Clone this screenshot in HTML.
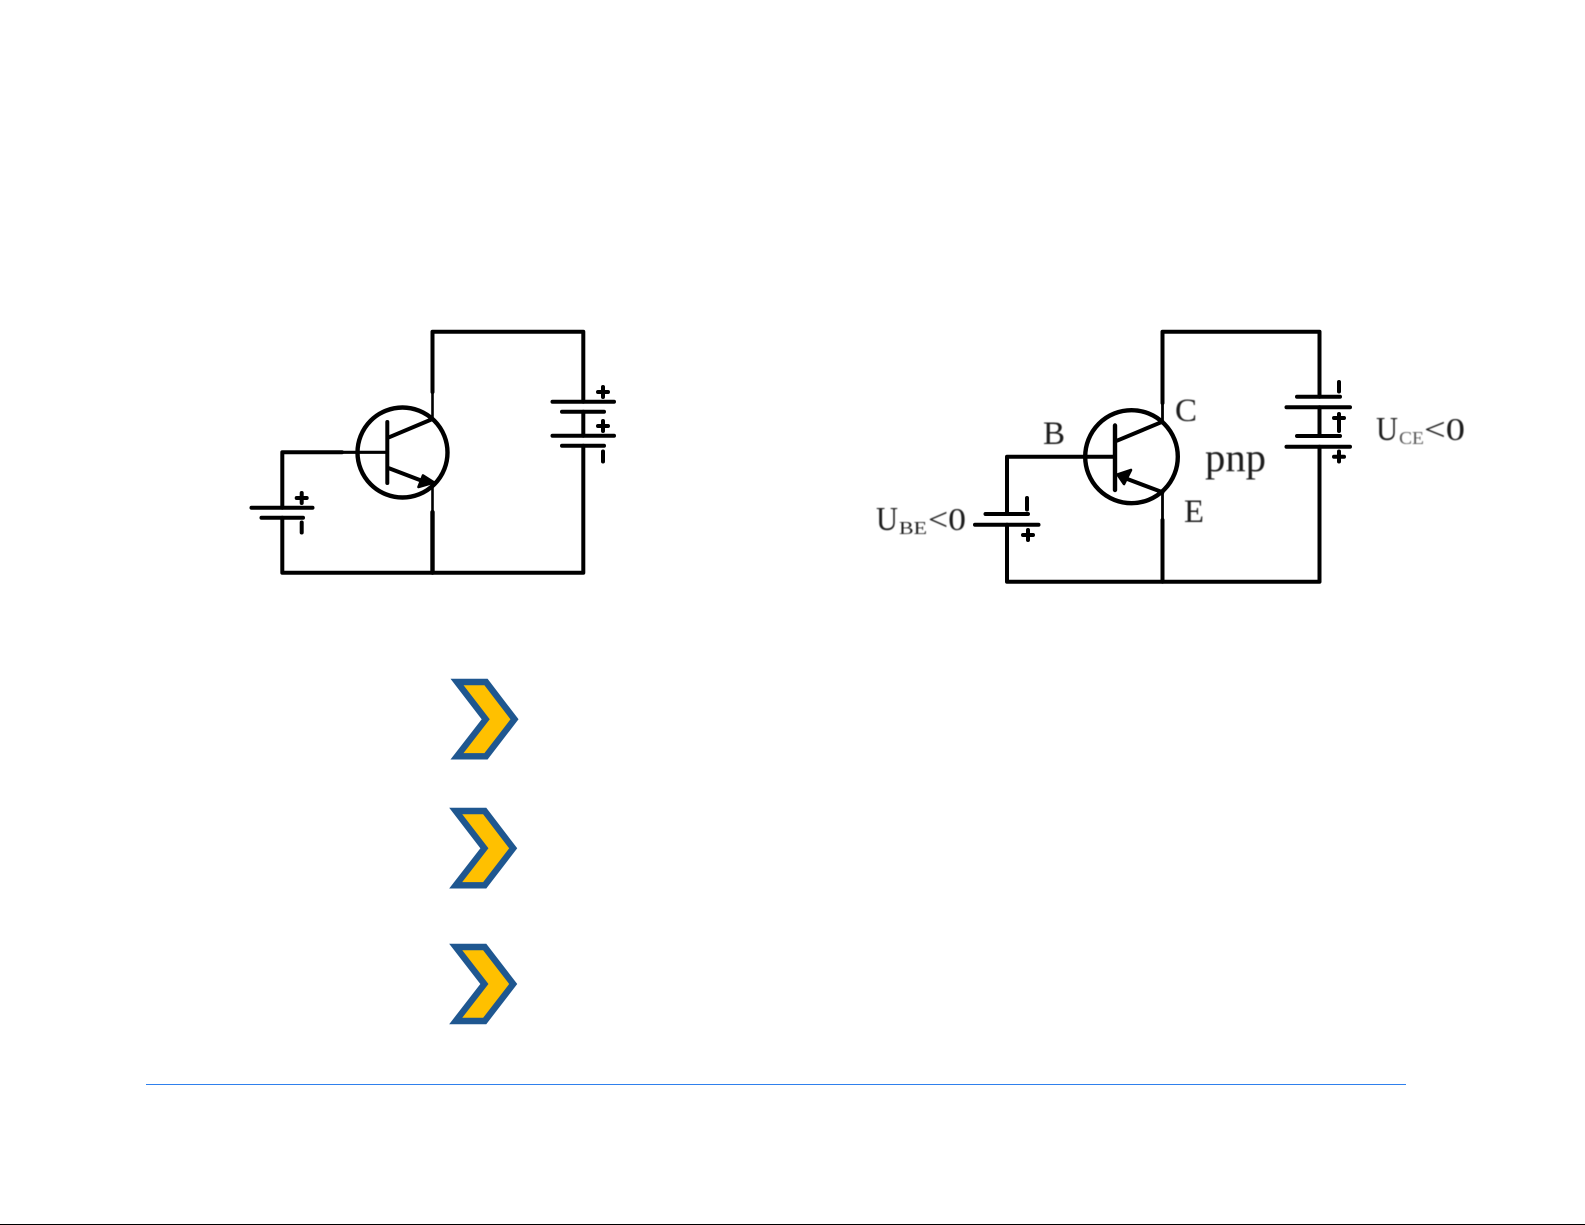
<!DOCTYPE html>
<html>
<head>
<meta charset="utf-8">
<style>
html,body{margin:0;padding:0;background:#fff;width:1585px;height:1225px;overflow:hidden}
svg{display:block;position:absolute;left:0;top:0}
text{font-family:"Liberation Serif",serif;fill:#1c1c1c}
</style>
</head>
<body>
<svg width="1585" height="1225" viewBox="0 0 1585 1225" xmlns="http://www.w3.org/2000/svg">
<rect width="1585" height="1225" fill="#fff"/>

<!-- NPN circuit -->
<g fill="none" stroke="#000" stroke-width="4" stroke-linecap="round" stroke-linejoin="round">
  <circle cx="402.5" cy="452.5" r="45" stroke-width="4.4"/>
  <path d="M432.5 392V331.7H583.3V401.7"/>
  <path d="M583.3 411.7V435.7"/>
  <path d="M583.3 445.7V572.7H282.3V517.7"/>
  <path d="M282.3 507.7V452.3H342"/>
  <path d="M432.5 512V572.7" stroke-width="4.4"/>
  <path d="M251.5 507.7H312.5M261.5 517.7H303M552.5 401.7H614M562 411.7H604M552.5 435.7H614M562 445.7H604"/>
  <path d="M387.3 422V483"/>
  <path d="M389 437.3L432.5 419M389 468.3L425 482"/>
  <path d="M301.7 493V503M296.7 498H306.7M301.7 522.5V532.5"/>
  <path d="M603 387V397M598 392H608M603 421V431M598 426H608M603 451.5V461.5"/>
</g>
<g fill="none" stroke="#000" stroke-width="2.6">
  <path d="M342 452.3H388" stroke-width="3.2"/>
  <path d="M432.5 392V419M432.5 483V512"/>
</g>
<polygon points="434,482.5 423,475.5 418.5,487" fill="#000" stroke="#000" stroke-width="2.6" stroke-linejoin="round"/>

<!-- PNP circuit -->
<g fill="none" stroke="#000" stroke-width="4" stroke-linecap="round" stroke-linejoin="round">
  <ellipse cx="1131.5" cy="456.7" rx="46.3" ry="46.5" stroke-width="4.4"/>
  <path d="M1162.5 403V331.7H1319.5V396.7"/>
  <path d="M1319.5 407.3V436"/>
  <path d="M1319.5 446.7V581.7H1007V524.7"/>
  <path d="M1007 514V456.7H1113"/>
  <path d="M1162.5 520V581.7"/>
  <path d="M985.5 514H1028M975 524.7H1038.5M1297 396.7H1340M1286.5 407.3H1350M1297 436H1340M1286.5 446.7H1350"/>
  <path d="M1115 425.5V490" stroke-width="4.4"/>
  <path d="M1117 440.7L1162.5 421.7M1126 478.5L1162.5 492.3"/>
  <path d="M1027 498V509.5M1028 530V540M1023 535H1033"/>
  <path d="M1339 382V391.5M1339 414V431M1334 418H1344M1339 451.5V461.5M1334 456.7H1344"/>
</g>
<path d="M1162.5 403V421M1162.5 492V520" fill="none" stroke="#000" stroke-width="2.8"/>
<polygon points="1117.5,474.5 1131,470 1124,484" fill="#000" stroke="#000" stroke-width="2.6" stroke-linejoin="round"/>

<!-- Labels -->
<g style="filter:blur(0.45px)">
  <text x="1043" y="444" font-size="33" textLength="22" lengthAdjust="spacingAndGlyphs">B</text>
  <text x="1175" y="421" font-size="33" textLength="22" lengthAdjust="spacingAndGlyphs">C</text>
  <text x="1184" y="522" font-size="33" textLength="20" lengthAdjust="spacingAndGlyphs">E</text>
  <text x="1205" y="471" font-size="40" textLength="61" lengthAdjust="spacingAndGlyphs">pnp</text>

  <text x="876" y="530" font-size="34" textLength="22" lengthAdjust="spacingAndGlyphs">U</text>
  <text x="899" y="534" font-size="18" textLength="28" lengthAdjust="spacingAndGlyphs">BE</text>
  <text x="928" y="530" font-size="32" textLength="38" lengthAdjust="spacingAndGlyphs">&lt;0</text>

  <text x="1376" y="440" font-size="34" textLength="22" lengthAdjust="spacingAndGlyphs">U</text>
  <text x="1399" y="444" font-size="18" textLength="25" lengthAdjust="spacingAndGlyphs" opacity="0.75">CE</text>
  <text x="1424" y="440" font-size="32" textLength="41" lengthAdjust="spacingAndGlyphs">&lt;0</text>
</g>

<!-- Chevrons -->
<g fill="#FFC000" stroke="#1F5790" stroke-width="6.4" stroke-linejoin="miter" stroke-miterlimit="6">
  <polygon points="457,682 486,682 514.5,719.3 486,756.3 457,756.3 485.7,719.3"/>
  <polygon points="455.7,811 484.7,811 513.2,848.3 484.7,885.3 455.7,885.3 484.4,848.3"/>
  <polygon points="455.7,947 484.7,947 513.2,984 484.7,1021 455.7,1021 484.4,984"/>
</g>

<!-- Footer rule -->
<rect x="146" y="1084" width="1260" height="1" fill="#2F80ED"/>
<rect x="0" y="1224" width="1585" height="1" fill="#000"/>
</svg>
</body>
</html>
